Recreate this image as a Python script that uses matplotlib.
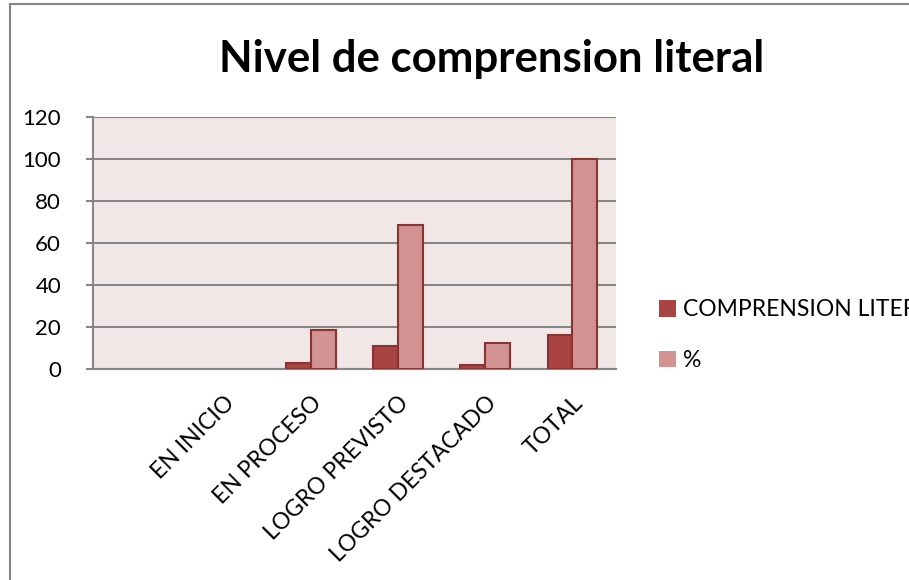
import matplotlib.pyplot as plt
import numpy as np

# datos del grafico (la primera categoria esta vacia en el original)
categorias = ['', 'EN INICIO', 'EN PROCESO', 'LOGRO PREVISTO', 'LOGRO DESTACADO', 'TOTAL']
comprension = [np.nan, 0, 3, 11, 2, 16]
porcentaje = [np.nan, 0, 18.75, 68.75, 12.5, 100]

plt.rcParams['font.family'] = ['Lato', 'DejaVu Sans']

fig = plt.figure(figsize=(9.09, 5.8), dpi=100)
ax = fig.add_axes([0.1023, 0.3638, 0.5754, 0.4345])
ax.set_facecolor('#F2E7E7')

x = np.arange(len(categorias))
w = 0.2857
b1 = ax.bar(x - w / 2, comprension, w, color='#A94442', edgecolor='#8A3432',
            linewidth=1.5, label='COMPRENSION LITERAL', zorder=3)
b2 = ax.bar(x + w / 2, porcentaje, w, color='#D39393', edgecolor='#8A3432',
            linewidth=1.5, label='%', zorder=3)
# las barras de valor 0 no se ven en el original
for p in list(b1) + list(b2):
    if not p.get_height() > 0:
        p.set_linewidth(0)

ax.set_xlim(-0.5, len(categorias) - 0.5)
ax.set_ylim(0, 120)
ax.set_yticks(range(0, 121, 20))
ax.grid(axis='y', color='#868686', linewidth=1.5, zorder=0)
for s in ['top', 'right']:
    ax.spines[s].set_visible(False)
for s in ['left', 'bottom']:
    ax.spines[s].set_color('#868686')
    ax.spines[s].set_linewidth(1.5)
ax.tick_params(axis='y', labelsize=16, length=5, width=1.5, color='#868686', pad=18)
ax.set_xticks(x)
ax.set_xticklabels(categorias, rotation=45, ha='right', rotation_mode='anchor', fontsize=16.5)
ax.tick_params(axis='x', length=0, pad=17)

fig.text(0.541, 0.898, 'Nivel de comprension literal', ha='center', va='center',
         fontsize=31.5, fontweight='bold')

fig.legend(loc='center left', bbox_to_anchor=(0.715, 0.4224), frameon=False,
           fontsize=16.5, handlelength=0.75, handleheight=0.75, handletextpad=0.3,
           labelspacing=1.3, borderaxespad=0)

# borde del area del grafico
fig.patches.append(plt.Rectangle((0.011, -0.1), 1.1, 1.093, transform=fig.transFigure,
                                 fill=False, edgecolor='#868686', linewidth=1.5))

plt.savefig('out.png', dpi=100)
